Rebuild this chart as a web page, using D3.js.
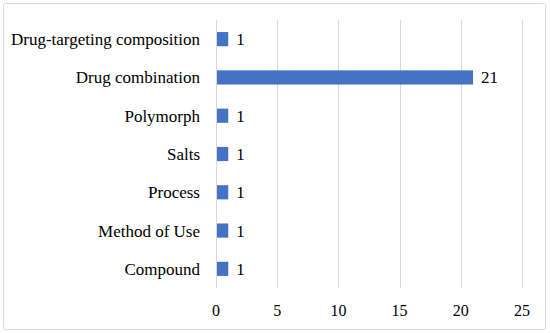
<!DOCTYPE html>
<html>
<head>
<meta charset="utf-8">
<script src="https://cdn.jsdelivr.net/npm/d3@7"></script>
<style>
  body { margin: 0; background: #fff; }
</style>
</head>
<body>
<div id="chart"></div>
<script>
// categories top to bottom, and their counts
var categories = ["Drug-targeting composition", "Drug combination", "Polymorph", "Salts", "Process", "Method of Use", "Compound"];
var counts = [1, 21, 1, 1, 1, 1, 1];
var xTicks = [0, 5, 10, 15, 20, 25];

var w_svg = 550, h_svg = 333;
var m_left = 216, m_right = 522, m_top = 20, m_bottom = 288;
var color_bar = "#4472c4";
var font = "Liberation Serif";

var mydata = categories.map(function(c, i) { return { axis: c, value: counts[i] }; });

var svg = d3.select("#chart")
  .append("svg")
  .attr("width", w_svg)
  .attr("height", h_svg);

// outer frame
svg.append("rect")
  .attr("x", 3.5).attr("y", 3.5)
  .attr("width", 542).attr("height", 326)
  .attr("rx", 2)
  .style("fill", "none")
  .style("stroke", "#d9d9d9")
  .style("stroke-width", 1);

var x = d3.scaleLinear().domain([0, 25]).range([m_left, m_right]);
var y = d3.scaleBand().domain(categories).range([m_top, m_bottom]).paddingInner(0.63).paddingOuter(0.315);

// gridlines
svg.selectAll("line.grid")
  .data(xTicks)
  .enter()
  .append("line")
  .attr("class", "grid")
  .attr("x1", function(d) { return Math.round(x(d)) + 0.5; })
  .attr("x2", function(d) { return Math.round(x(d)) + 0.5; })
  .attr("y1", m_top)
  .attr("y2", m_bottom)
  .style("stroke", "#d9d9d9")
  .style("stroke-width", 1);

// x tick labels
svg.selectAll("text.xtick")
  .data(xTicks)
  .enter()
  .append("text")
  .attr("class", "xtick")
  .attr("x", function(d) { return x(d); })
  .attr("y", 316)
  .attr("font-family", font)
  .attr("font-size", 16)
  .style("text-anchor", "middle")
  .text(function(d) { return d; });

// bars
svg.selectAll("rect.bar")
  .data(mydata)
  .enter()
  .append("rect")
  .attr("class", "bar")
  .attr("x", x(0) + 1)
  .attr("y", function(d) { return y(d.axis); })
  .attr("width", function(d) { return x(d.value) - x(0) - 1; })
  .attr("height", y.bandwidth())
  .style("fill", color_bar);

// category labels
svg.selectAll("text.cat")
  .data(mydata)
  .enter()
  .append("text")
  .attr("class", "cat")
  .attr("x", 200)
  .attr("y", function(d) { return y(d.axis) + y.bandwidth() / 2; })
  .attr("dy", "0.35em")
  .attr("font-family", font)
  .attr("font-size", 17)
  .style("text-anchor", "end")
  .text(function(d) { return d.axis; });

// value labels
svg.selectAll("text.val")
  .data(mydata)
  .enter()
  .append("text")
  .attr("class", "val")
  .attr("x", function(d) { return x(d.value) + 8; })
  .attr("y", function(d) { return y(d.axis) + y.bandwidth() / 2; })
  .attr("dy", "0.35em")
  .attr("font-family", font)
  .attr("font-size", 17)
  .text(function(d) { return d.value; });
</script>
</body>
</html>
